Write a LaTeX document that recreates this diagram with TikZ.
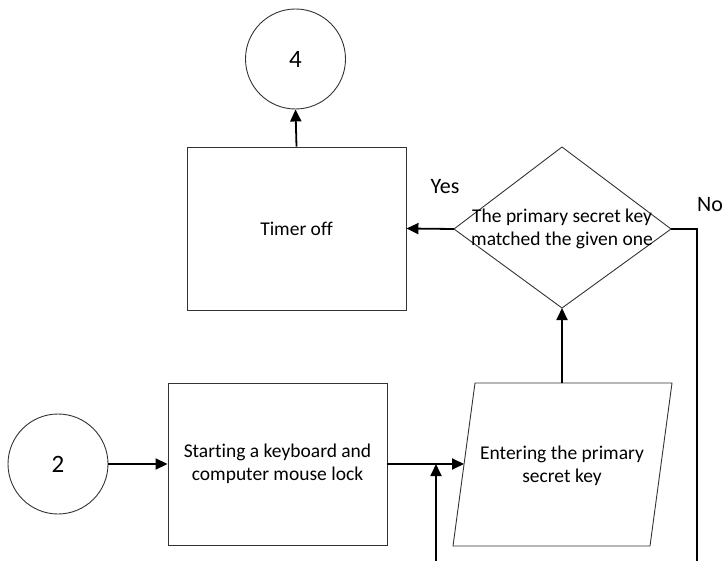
\documentclass[tikz,border=0pt]{standalone}
\usepackage{fontspec}
\setmainfont{Carlito}[Ligatures=NoCommon]
\usetikzlibrary{arrows.meta}
\tikzset{
  shapeline/.style={draw=black!80, line width=0.9pt},
  boxnode/.style={shapeline, rectangle, inner sep=0pt, align=center, font=\fontsize{19.5}{23}\selectfont},
  termnode/.style={shapeline, circle, inner sep=0pt, minimum size=100pt, font=\fontsize{25}{28}\selectfont},
  txt/.style={inner sep=0pt, align=center, font=\fontsize{19.5}{23}\selectfont},
  lbl/.style={inner sep=0pt, font=\fontsize{22}{24}\selectfont},
  conn/.style={line width=1.8pt, -{Triangle[length=12pt,width=11pt]}},
  plainconn/.style={line width=1.8pt}
}
\begin{document}
\begin{tikzpicture}[x=1pt,y=-1pt]
\useasboundingbox (0,0) rectangle (722,561);
% terminals
\node[termnode] (c4) at (295.5,59) {4};
\node[termnode] (c2) at (58,464) {2};
% rectangles
\node[boxnode, minimum width=219pt, minimum height=163pt] (timer) at (296.5,228.5) {Timer off};
\node[boxnode, minimum width=219pt, minimum height=162pt] (start) at (277.5,464) {Starting a keyboard and\\computer mouse lock};
% diamond
\coordinate (dt) at (562,147);
\coordinate (db) at (562,308);
\coordinate (dl) at (454,229);
\coordinate (dr) at (671,229);
\draw[shapeline] (dt) -- (dr) -- (db) -- (dl) -- cycle;
\node[txt] (dtext) at (562,229) {The primary secret key\\matched the given one};
% parallelogram
\coordinate (ptl) at (475,383);
\coordinate (ptr) at (672,383);
\coordinate (pbr) at (650,546);
\coordinate (pbl) at (453,546);
\draw[shapeline] (ptl) -- (ptr) -- (pbr) -- (pbl) -- cycle;
\node[txt] (ptext) at (562,466) {Entering the primary\\secret key};
\coordinate (ptop) at (562,383);
\coordinate (pleft) at (464,464);
% labels
\node[lbl] (yes) at (445,187) {Yes};
\node[lbl, anchor=west] (no) at (697,205) {No};
% junction / loose ends
\coordinate (jn) at (436,464);
\coordinate (jbot) at (436,561);
\coordinate (nocorner) at (697,229);
\coordinate (nobot) at (697,561);
% connectors
\draw[conn] (timer.north) -- (c4.south);
\draw[conn] (dl) -- (timer.east);
\draw[conn] (ptop) -- (db);
\draw[conn] (c2.east) -- (start.west);
\draw[conn] (start.east) -- (pleft);
\draw[conn] (jbot) -- (jn);
\draw[plainconn] (dr) -- (nocorner) -- (nobot);
\end{tikzpicture}
\end{document}
